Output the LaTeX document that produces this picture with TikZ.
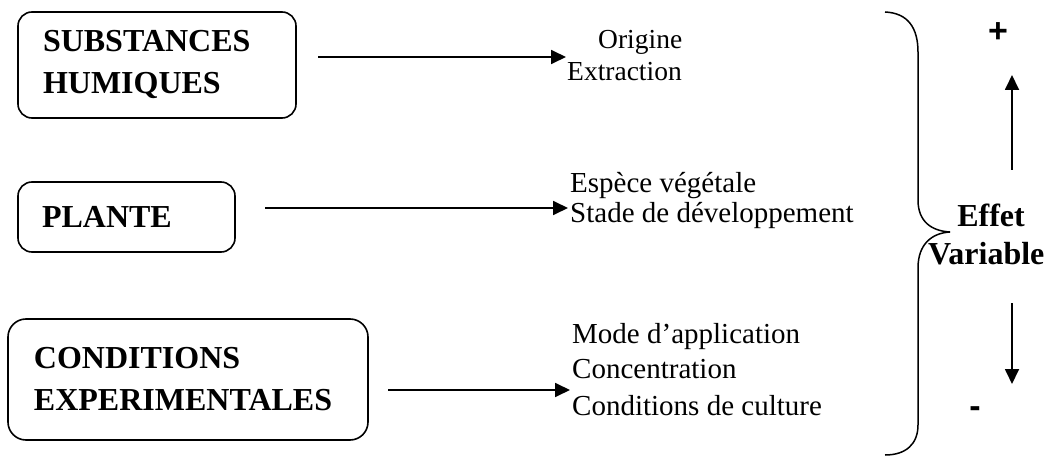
\documentclass[tikz,border=0pt]{standalone}
\usepackage{fontspec}
\setmainfont{Liberation Serif}
\newfontfamily\signfont{Liberation Sans}
\usetikzlibrary{arrows.meta}
\begin{document}
\begin{tikzpicture}[x=1pt,y=-1pt,
  factor/.style={draw, line width=1.6pt, rounded corners=14pt, align=left,
    font=\fontsize{32}{42}\selectfont\bfseries},
  item/.style={anchor=base west, inner sep=0pt, font=\fontsize{29}{34}\selectfont},
  smallitem/.style={item, font=\fontsize{27.5}{32}\selectfont},
  arr/.style={line width=1.8pt, -{Triangle[length=15pt,width=14pt]}},
  effet/.style={inner sep=0pt, font=\fontsize{32}{38}\selectfont\bfseries},
  sign/.style={inner sep=0pt, font=\fontsize{34}{38}\selectfont\signfont\bfseries}]
\useasboundingbox (0,0) rectangle (1050,457);

% factor boxes
\node[factor, minimum width=278pt, minimum height=106pt, inner xsep=25pt, text width=228pt]
  (sh) at (157,65) {SUBSTANCES\\HUMIQUES};
\node[factor, minimum width=217pt, minimum height=70pt, inner xsep=24pt, text width=169pt]
  (pl) at (126.5,217) {PLANTE};
\node[factor, minimum width=360pt, minimum height=121pt, inner xsep=26pt, text width=308pt,
  rounded corners=18pt] (ce) at (188,379.5) {CONDITIONS\\EXPERIMENTALES};

% lists of parameters
\node[smallitem] (origine) at (598,49) {Origine};
\node[smallitem] (extraction) at (567,81) {Extraction};
\node[item] (espece) at (570,193) {Espèce végétale};
\node[item] (stade) at (570,223) {Stade de développement};
\node[item] (mode) at (572,343) {Mode d’application};
\node[item] (concentration) at (572,378) {Concentration};
\node[item] (culture) at (572,415) {Conditions de culture};

% arrows from each factor to its parameters
\coordinate (s1) at (318,57);  \coordinate (e1) at (566,57);
\coordinate (s2) at (265,208); \coordinate (e2) at (568,208);
\coordinate (s3) at (388,390); \coordinate (e3) at (570,390);
\draw[arr] (s1) -- (e1);
\draw[arr] (s2) -- (e2);
\draw[arr] (s3) -- (e3);

% brace gathering all parameters
\coordinate (btop) at (885,12);
\coordinate (btip) at (950,232);
\coordinate (bbot) at (885,455);
\draw[line width=1.5pt]
  (btop) .. controls (908,13) and (918,28) .. (918,52)
  -- (918,200) .. controls (918,222) and (932,231) .. (btip);
\draw[line width=1.5pt]
  (btip) .. controls (932,233) and (918,244) .. (918,268)
  -- (918,425) .. controls (918,444) and (906,455) .. (bbot);

% resulting effect
\node[effet, anchor=base] (eff) at (991,227) {Effet};
\node[effet, anchor=base west] (var) at (928,265) {Variable};
\node[sign] (plus) at (998,33) {+};
\node[sign] (minus) at (975,412) {-};
\coordinate (u1) at (1012,170); \coordinate (u2) at (1012,75);
\coordinate (d1) at (1012,303); \coordinate (d2) at (1012,384);
\draw[arr] (u1) -- (u2);
\draw[arr] (d1) -- (d2);
\end{tikzpicture}
\end{document}
